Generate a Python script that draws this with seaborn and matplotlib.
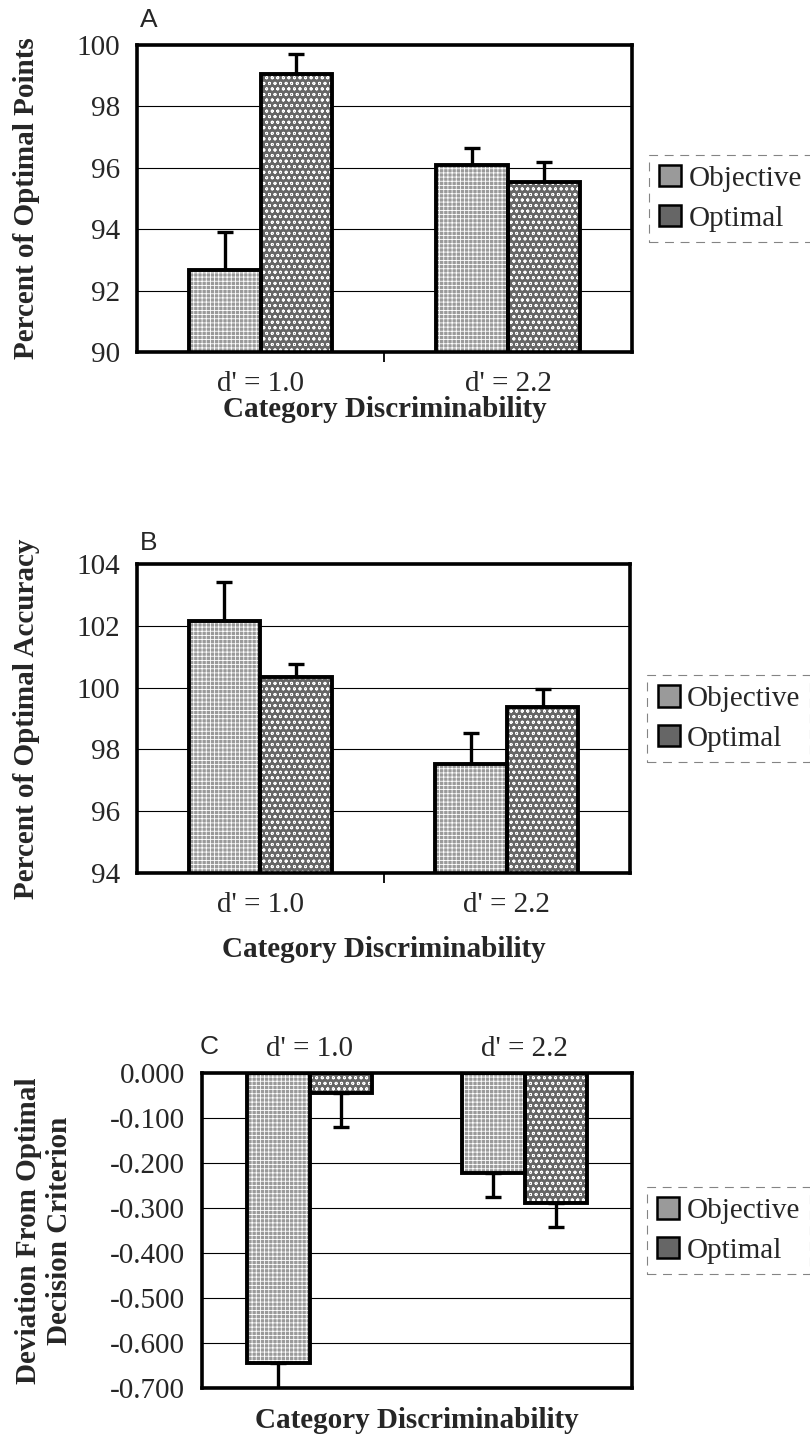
import numpy as np
import pandas as pd
import matplotlib
matplotlib.use("Agg")
import matplotlib.pyplot as plt
import seaborn as sns
from matplotlib.patches import Rectangle, Patch
from matplotlib.ticker import FormatStrFormatter, FixedLocator, MultipleLocator

# ---------------- data ----------------
categories = ["d' = 1.0", "d' = 2.2"]
conditions = ["Objective", "Optimal"]

points_objective = [92.67, 96.09]
points_optimal = [99.06, 95.54]
points_err_objective = [1.23, 0.55]
points_err_optimal = [0.64, 0.66]

accuracy_objective = [102.16, 97.53]
accuracy_optimal = [100.34, 99.37]
accuracy_err_objective = [1.26, 1.00]
accuracy_err_optimal = [0.42, 0.58]

criterion_objective = [-0.644, -0.222]
criterion_optimal = [-0.044, -0.289]
criterion_err_objective = [0.06, 0.054]
criterion_err_optimal = [0.076, 0.053]

# ---------------- style ----------------
sns.set_theme(style="white")
plt.rcParams["font.family"] = ["Liberation Serif", "DejaVu Serif"]
plt.rcParams["hatch.linewidth"] = 0.6

palette = {"Objective": "#9a9a9a", "Optimal": "#666666"}
hatches = {"Objective": "++++", "Optimal": "ooo"}
FS = 21

fig = plt.figure(figsize=(8.1, 14.39), dpi=100)
axA = fig.add_axes([0.169, 0.7554, 0.611, 0.2133])
axB = fig.add_axes([0.169, 0.3933, 0.609, 0.2147])
axC = fig.add_axes([0.2494, 0.0354, 0.531, 0.2189])


def draw_panel(ax, obj, opt, err_obj, err_opt, ylim, ystep, ylabel, fmt,
               downward=False):
    df = pd.DataFrame({
        "cat": categories * 2,
        "cond": [conditions[0]] * 2 + [conditions[1]] * 2,
        "value": list(obj) + list(opt),
    })
    sns.barplot(data=df, x="cat", y="value", hue="cond", order=categories,
                hue_order=conditions, palette=palette, saturation=1,
                width=0.58, gap=0, errorbar=None, linewidth=0,
                legend=False, ax=ax, zorder=2)
    for container, cond, errs in zip(ax.containers, conditions, [err_obj, err_opt]):
        for bar, e in zip(container, errs):
            x0, y0 = bar.get_x(), bar.get_y()
            w, h = bar.get_width(), bar.get_height()
            ax.add_patch(Rectangle((x0, y0), w, h, facecolor="none",
                                   edgecolor="white", hatch=hatches[cond],
                                   linewidth=0, zorder=2.1))
            ax.add_patch(Rectangle((x0, y0), w, h, facecolor="none",
                                   edgecolor="black", linewidth=2.8,
                                   zorder=2.2))
            xc = x0 + w / 2
            yt = y0 + h
            yerr = [[e], [0]] if downward else [[0], [e]]
            ax.errorbar([xc], [yt], yerr=yerr, fmt="none", ecolor="black",
                        elinewidth=2.4, capsize=5.5, capthick=2.4, zorder=1.8)
    ax.set_xlim(-0.5, 1.5)
    ax.set_ylim(*ylim)
    ax.yaxis.set_major_locator(MultipleLocator(ystep))
    ax.yaxis.set_major_formatter(FormatStrFormatter(fmt))
    ax.set_axisbelow(True)
    ax.yaxis.grid(True, color="black", linewidth=0.8)
    ax.xaxis.grid(False)
    for s in ax.spines.values():
        s.set_visible(True)
        s.set_color("black")
        s.set_linewidth(2.6)
    ax.tick_params(axis="y", which="major", direction="out", length=6,
                   width=1.3, labelsize=FS, pad=6, color="black")
    ax.tick_params(axis="x", which="major", length=0, labelsize=FS, pad=14)
    ax.set_ylabel(ylabel, fontsize=FS, fontweight="bold")
    ax.set_xlabel("Category Discriminability", fontsize=FS, fontweight="bold")
    handles = [Patch(facecolor=palette[c], edgecolor="black", linewidth=1.8,
                     label=c) for c in conditions]
    leg = ax.legend(handles=handles, loc="center left",
                    bbox_to_anchor=(1.035, 0.5), fontsize=FS, frameon=True,
                    fancybox=False, handlelength=0.75, handleheight=0.75,
                    handletextpad=0.25, borderpad=0.35, labelspacing=0.45,
                    borderaxespad=0)
    fr = leg.get_frame()
    fr.set_edgecolor("#666666")
    fr.set_linewidth(0.8)
    fr.set_linestyle((0, (8, 6)))


draw_panel(axA, points_objective, points_optimal, points_err_objective,
           points_err_optimal, (90, 100), 2, "Percent of Optimal Points", "%d")
draw_panel(axB, accuracy_objective, accuracy_optimal, accuracy_err_objective,
           accuracy_err_optimal, (94, 104), 2, "Percent of Optimal Accuracy", "%d")
draw_panel(axC, criterion_objective, criterion_optimal, criterion_err_objective,
           criterion_err_optimal, (-0.7, 0.0), 0.1,
           "Deviation From Optimal\nDecision Criterion", "%.3f", downward=True)

# category separator tick (Excel style)
for ax in (axA, axB):
    ax.xaxis.set_minor_locator(FixedLocator([0.5]))
    ax.tick_params(axis="x", which="minor", direction="out", length=7,
                   width=1.3, color="black", bottom=True)

# panel C: category labels on top
axC.xaxis.tick_top()
axC.xaxis.set_label_position("bottom")
axC.tick_params(axis="x", which="major", length=0, pad=8, labelsize=FS)

# label positions
axA.yaxis.set_label_coords(-0.196, 0.5)
axB.yaxis.set_label_coords(-0.196, 0.5)
axC.yaxis.set_label_coords(-0.30, 0.5)
axA.xaxis.set_label_coords(0.5, -0.145)
axB.xaxis.set_label_coords(0.5, -0.205)
axC.xaxis.set_label_coords(0.5, -0.06)

# panel letters
fig.text(140 / 810, 1 - 20 / 1439, "A", family="Liberation Sans",
         fontsize=19, ha="left", va="center")
fig.text(140 / 810, 1 - 543 / 1439, "B", family="Liberation Sans",
         fontsize=19, ha="left", va="center")
fig.text(200 / 810, 1 - 1047 / 1439, "C", family="Liberation Sans",
         fontsize=19, ha="left", va="center")

fig.savefig("out.png", dpi=100)
